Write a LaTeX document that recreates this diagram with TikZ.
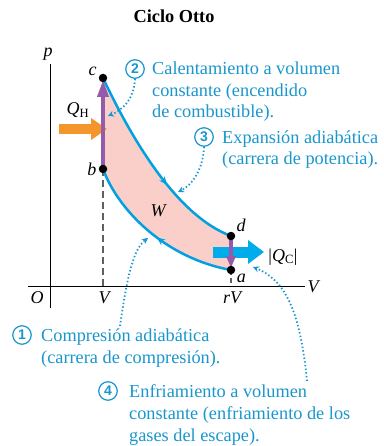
\documentclass[tikz,border=0pt]{standalone}
\usepackage{fontspec}
\setmainfont{Liberation Serif}
\newfontfamily\numfont{Liberation Sans}
\usetikzlibrary{arrows.meta,decorations.markings,backgrounds}

\definecolor{txtblue}{RGB}{25,150,205}
\definecolor{curveblue}{RGB}{0,160,225}
\definecolor{qcblue}{RGB}{0,172,236}
\definecolor{pinkfill}{RGB}{250,207,202}
\definecolor{purp}{RGB}{150,90,170}
\definecolor{orng}{RGB}{245,150,45}

\begin{document}
\begin{tikzpicture}[
  x=1pt, y=-1pt,
  dot/.style={circle, fill=black, inner sep=0pt, minimum size=8.5pt},
  lbl/.style={font=\fontsize{18}{22}\selectfont\itshape, inner sep=1pt},
  txt/.style={font=\fontsize{18}{22}\selectfont, inner sep=0pt, anchor=base},
  note/.style={font=\fontsize{18.3}{21.8}\selectfont, text=txtblue,
               align=left, anchor=base west, inner sep=0pt},
  num/.style={circle, draw=txtblue, line width=1.2pt, text=txtblue,
              font=\numfont\bfseries\fontsize{14}{14}\selectfont,
              inner sep=0pt, minimum size=18.5pt},
  leader/.style={txtblue, line width=1.8pt, dash pattern=on 1.4pt off 2.3pt,
                 -{Stealth[length=6pt,width=6pt]}},
  curve/.style={curveblue, line width=2.5pt},
  midarrow/.style={postaction={decorate}, decoration={markings,
                   mark=at position #1 with {\arrow{Stealth[length=8pt,width=7pt]}}}},
  heat/.style={purp, line width=3.5pt},
  label distance=1pt
]
\useasboundingbox (0,0) rectangle (383,446);

% title and axes
\node[txt, font=\bfseries\fontsize{18.3}{20}\selectfont] (title) at (174,23) {Ciclo Otto};
\coordinate (ytop) at (50,64);
\coordinate (ybot) at (50,308);
\coordinate (xlft) at (28,286);
\coordinate (xrgt) at (305,286);
\draw[line width=0.9pt] (ybot) -- (ytop);
\draw[line width=0.9pt] (xlft) -- (xrgt);
\node[lbl, anchor=base] (plbl) at (48,57) {p};
\node[lbl, anchor=base] (vlbl) at (313,292) {V};
\node[lbl, anchor=base] (olbl) at (37,303) {O};
\node[lbl, anchor=base] (v1lbl) at (104,303) {V};
\node[lbl, anchor=base] (rvlbl) at (232,303) {rV};

% state points
\node[dot, label={[lbl]165:c}] (c) at (103,78) {};
\node[dot, label={[lbl]left:b}] (b) at (103,169) {};
\node[dot, label={[lbl]35:d}] (d) at (231,236) {};
\node[dot, label={[lbl]-30:a}] (a) at (231,270) {};
\coordinate (bv) at (103,286);
\coordinate (av) at (231,286);

\begin{scope}[on background layer]
  \fill[pinkfill] (c.center) .. controls (130,135) and (175,215) .. (d.center)
    -- (a.center) .. controls (165,258) and (118,210) .. (b.center) -- cycle;
  \draw[gray!75!black, line width=1.2pt, dash pattern=on 7pt off 4pt] (b.center) -- (bv);
  \draw[gray!75!black, line width=1.2pt, dash pattern=on 5pt off 3pt] (a.center) -- (av);
  % heat flows
  \draw[orng, line width=10pt, -{Triangle[length=16pt,width=21pt]}] (59,129) -- (107,129);
  \draw[qcblue, line width=11pt, -{Triangle[length=16pt,width=23pt]}] (213,252) -- (264,252);
  % cycle
  \draw[curve, midarrow=0.6] (c.center) .. controls (130,135) and (175,215) .. (d.center);
  \draw[curve, midarrow=0.48] (a.center) .. controls (165,258) and (118,210) .. (b.center);
  \draw[heat, -{Triangle[length=17pt,width=11pt]}, shorten >=2pt] (b.center) -- (c.center);
  \draw[heat, -{Triangle[length=12pt,width=9pt]}, shorten >=2pt] (d.center) -- (a.center);
\end{scope}

\node[txt, font=\fontsize{18}{22}\selectfont] (qh) at (78,115) {\textit{Q}\textsubscript{H}};
\node[txt, font=\fontsize{18}{22}\selectfont] (qc) at (283,261) {|\textit{Q}\textsubscript{C}|};
\node[lbl, anchor=base] (w) at (158,216) {W};

% process notes
\node[num] (n2) at (135,69) {2};
\node[note] (t2) at (152,118) {Calentamiento a volumen\\constante (encendido\\de combustible).};
\node[num] (n3) at (204,137) {3};
\node[note] (t3) at (222,165) {Expansión adiabática\\(carrera de potencia).};
\node[num] (n1) at (22,335) {1};
\node[note] (t1) at (41,363) {Compresión adiabática\\(carrera de compresión).};
\node[num] (n4) at (108,391) {4};
\node[note] (t4) at (129,441) {Enfriamiento a volumen\\constante (enfriamiento de los\\gases del escape).};

\coordinate (e2) at (108,116);
\coordinate (e3) at (178,192);
\coordinate (s1) at (120,326);
\coordinate (e1) at (148,238);
\coordinate (s4) at (307,381);
\coordinate (e4) at (253,267);
\draw[leader] (n2.south) .. controls (134,100) and (122,110) .. (e2);
\draw[leader] (n3.south) .. controls (203,170) and (192,185) .. (e3);
\draw[leader] (s1) .. controls (126,285) and (132,250) .. (e1);
\draw[leader] (s4) .. controls (300,310) and (285,280) .. (e4);
\end{tikzpicture}
\end{document}
